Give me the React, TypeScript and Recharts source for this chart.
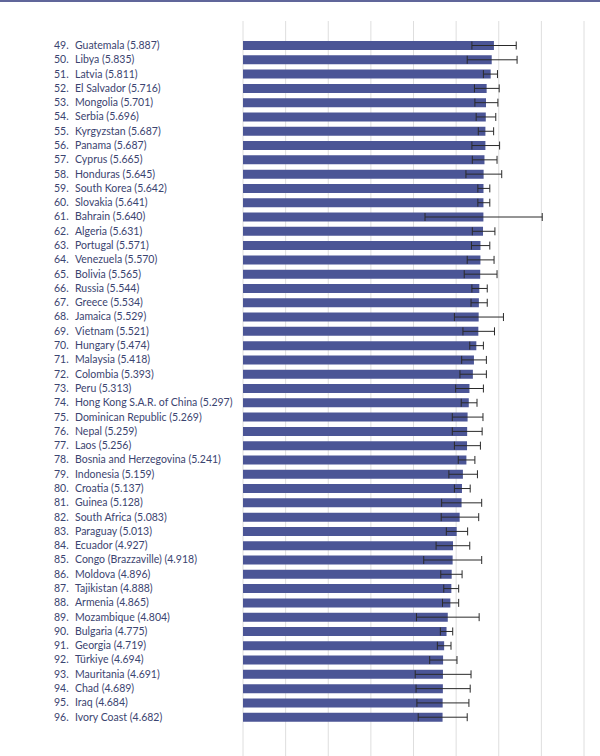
import { Bar, BarChart, CartesianGrid, ErrorBar, XAxis, YAxis } from "recharts";

const ranks = [
  49, 50, 51, 52, 53, 54, 55, 56, 57, 58, 59, 60, 61, 62, 63, 64, 65, 66, 67, 68, 69, 70, 71, 72,
  73, 74, 75, 76, 77, 78, 79, 80, 81, 82, 83, 84, 85, 86, 87, 88, 89, 90, 91, 92, 93, 94, 95, 96,
];

const countries = [
  "Guatemala", "Libya", "Latvia", "El Salvador", "Mongolia", "Serbia", "Kyrgyzstan", "Panama",
  "Cyprus", "Honduras", "South Korea", "Slovakia", "Bahrain", "Algeria", "Portugal", "Venezuela",
  "Bolivia", "Russia", "Greece", "Jamaica", "Vietnam", "Hungary", "Malaysia", "Colombia",
  "Peru", "Hong Kong S.A.R. of China", "Dominican Republic", "Nepal", "Laos",
  "Bosnia and Herzegovina", "Indonesia", "Croatia", "Guinea", "South Africa", "Paraguay",
  "Ecuador", "Congo (Brazzaville)", "Moldova", "Tajikistan", "Armenia", "Mozambique",
  "Bulgaria", "Georgia", "Türkiye", "Mauritania", "Chad", "Iraq", "Ivory Coast",
];

const scores = [
  5.887, 5.835, 5.811, 5.716, 5.701, 5.696, 5.687, 5.687, 5.665, 5.645, 5.642, 5.641,
  5.64, 5.631, 5.571, 5.57, 5.565, 5.544, 5.534, 5.529, 5.521, 5.474, 5.418, 5.393,
  5.313, 5.297, 5.269, 5.259, 5.256, 5.241, 5.159, 5.137, 5.128, 5.083, 5.013, 4.927,
  4.918, 4.896, 4.888, 4.865, 4.804, 4.775, 4.719, 4.694, 4.691, 4.689, 4.684, 4.682,
];

// lower / upper ends of the whiskers
const lowerBounds = [
  5.37, 5.26, 5.64, 5.43, 5.44, 5.47, 5.52, 5.37, 5.38, 5.23, 5.51, 5.51,
  4.27, 5.38, 5.36, 5.26, 5.19, 5.37, 5.35, 4.96, 5.16, 5.32, 5.13, 5.09,
  4.99, 5.12, 4.91, 4.91, 4.96, 5.05, 4.83, 4.96, 4.66, 4.65, 4.77, 4.53,
  4.24, 4.64, 4.71, 4.68, 4.07, 4.63, 4.56, 4.38, 4.04, 4.06, 4.08, 4.11,
];

const upperBounds = [
  6.41, 6.43, 5.97, 6.01, 5.98, 5.93, 5.88, 6.02, 5.96, 6.07, 5.79, 5.79,
  7.02, 5.91, 5.79, 5.89, 5.96, 5.73, 5.73, 6.11, 5.9, 5.64, 5.71, 5.71,
  5.64, 5.49, 5.63, 5.61, 5.57, 5.44, 5.5, 5.33, 5.6, 5.53, 5.27, 5.32,
  5.6, 5.14, 5.06, 5.06, 5.54, 4.92, 4.88, 5.02, 5.35, 5.33, 5.3, 5.26,
];

const xTicks = [0, 1, 2, 3, 4, 5, 6, 7, 8];

const data = countries.map((country, i) => ({
  country,
  score: scores[i],
  err: [scores[i] - lowerBounds[i], upperBounds[i] - scores[i]],
}));

const TEXT_COLOR = "#3b4470";
const BAR_COLOR = "#4b5596";

function CountryTick(props: any) {
  const { y, payload } = props;
  const i = payload.index;
  const style = { fontFamily: "Lato", fontSize: 10.5, fill: TEXT_COLOR };
  return (
    <g>
      <text x={54} y={y} dy={3.8} style={style}>
        {ranks[i]}.
      </text>
      <text x={75} y={y} dy={3.8} style={style}>
        {countries[i]} ({scores[i].toFixed(3)})
      </text>
    </g>
  );
}

export default function App() {
  return (
    <div
      style={{
        position: "absolute",
        left: 0,
        top: 0,
        width: 600,
        height: 756,
        overflow: "hidden",
        background: "#fff",
      }}
    >
      <div style={{ position: "absolute", left: 0, top: 0, width: 600, borderTop: "2px solid #60669a" }} />
      <BarChart
        width={600}
        height={760}
        data={data}
        layout="vertical"
        margin={{ top: 21, right: 16, left: 0, bottom: 0 }}
      >
        <CartesianGrid horizontal={false} stroke="#dedede" strokeWidth={1} />
        <XAxis type="number" domain={[0, 8]} ticks={xTicks} hide />
        <YAxis
          type="category"
          dataKey="country"
          width={243}
          axisLine={false}
          tickLine={false}
          interval={0}
          padding={{ top: 17, bottom: 36 }}
          tick={<CountryTick />}
        />
        <Bar dataKey="score" fill={BAR_COLOR} barSize={9} isAnimationActive={false}>
          <ErrorBar dataKey="err" direction="x" width={4} stroke="#2a2a2a" strokeWidth={1} />
        </Bar>
      </BarChart>
    </div>
  );
}
